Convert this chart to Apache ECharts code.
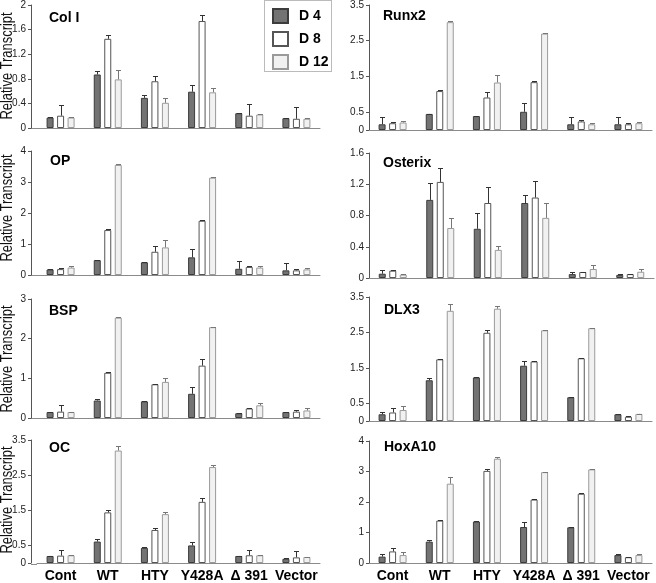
<!DOCTYPE html>
<html><head><meta charset="utf-8">
<script src="https://cdn.jsdelivr.net/npm/echarts@6/dist/echarts.min.js"></script>
<style>html,body{margin:0;padding:0;background:#fff}#c{width:656px;height:583px}</style>
</head><body><div id="c"></div>
<script>
const categories = ['Cont', 'WT', 'HTY', 'Y428A', '\u0394 391', 'Vector'];
const seriesNames = ['D 4', 'D 8', 'D 12'];

// Col I
const colI_D4 = [0.17, 0.87, 0.49, 0.59, 0.24, 0.16];
const colI_D8 = [0.20, 1.45, 0.76, 1.74, 0.20, 0.15];
const colI_D12 = [0.17, 0.79, 0.41, 0.58, 0.22, 0.15];
const colI_E4 = [0.01, 0.06, 0.04, 0.11, 0.01, 0.01];
const colI_E8 = [0.18, 0.07, 0.09, 0.09, 0.19, 0.19];
const colI_E12 = [0.01, 0.15, 0.07, 0.07, 0.01, 0.01];
// Runx2
const runx2_D4 = [0.16, 0.45, 0.39, 0.51, 0.16, 0.16];
const runx2_D8 = [0.19, 1.09, 0.91, 1.34, 0.24, 0.16];
const runx2_D12 = [0.21, 3.02, 1.33, 2.70, 0.16, 0.19];
const runx2_E4 = [0.20, 0.01, 0.01, 0.25, 0.20, 0.20];
const runx2_E8 = [0.04, 0.02, 0.16, 0.04, 0.05, 0.04];
const runx2_E12 = [0.04, 0.04, 0.20, 0.01, 0.04, 0.04];
// OP
const op_D4 = [0.18, 0.48, 0.41, 0.57, 0.20, 0.15];
const op_D8 = [0.19, 1.45, 0.75, 1.75, 0.26, 0.15];
const op_D12 = [0.24, 3.55, 0.89, 3.14, 0.24, 0.18];
const op_E4 = [0.01, 0.01, 0.01, 0.26, 0.24, 0.23];
const op_E8 = [0.04, 0.02, 0.17, 0.02, 0.02, 0.05];
const op_E12 = [0.05, 0.02, 0.24, 0.01, 0.04, 0.06];
// Osterix
const osx_D4 = [0.055, 1.00, 0.63, 0.96, 0.05, 0.04];
const osx_D8 = [0.094, 1.23, 0.96, 1.03, 0.077, 0.05];
const osx_D12 = [0.043, 0.64, 0.36, 0.77, 0.115, 0.08];
const osx_E4 = [0.045, 0.21, 0.20, 0.10, 0.025, 0.005];
const osx_E8 = [0.005, 0.18, 0.20, 0.21, 0.005, 0.005];
const osx_E12 = [0.005, 0.13, 0.05, 0.19, 0.055, 0.035];
// BSP
const bsp_D4 = [0.15, 0.44, 0.42, 0.61, 0.12, 0.15];
const bsp_D8 = [0.16, 1.14, 0.85, 1.32, 0.24, 0.16];
const bsp_D12 = [0.15, 2.53, 0.91, 2.29, 0.32, 0.19];
const bsp_E4 = [0.01, 0.03, 0.01, 0.16, 0.01, 0.01];
const bsp_E8 = [0.17, 0.01, 0.01, 0.18, 0.01, 0.03];
const bsp_E12 = [0.01, 0.01, 0.11, 0.01, 0.07, 0.06];
// DLX3
const dlx3_D4 = [0.19, 1.15, 1.23, 1.56, 0.67, 0.19];
const dlx3_D8 = [0.24, 1.74, 2.49, 1.68, 1.77, 0.12];
const dlx3_D12 = [0.31, 3.11, 3.17, 2.56, 2.62, 0.20];
const dlx3_E4 = [0.05, 0.07, 0.01, 0.13, 0.01, 0.01];
const dlx3_E8 = [0.13, 0.01, 0.07, 0.01, 0.01, 0.01];
const dlx3_E12 = [0.11, 0.20, 0.07, 0.01, 0.01, 0.01];
// OC
const oc_D4 = [0.20, 0.61, 0.43, 0.50, 0.20, 0.12];
const oc_D8 = [0.21, 1.44, 0.94, 1.74, 0.22, 0.16];
const oc_D12 = [0.22, 3.20, 1.39, 2.73, 0.22, 0.17];
const oc_E4 = [0.01, 0.06, 0.02, 0.11, 0.01, 0.01];
const oc_E8 = [0.17, 0.06, 0.07, 0.11, 0.16, 0.17];
const oc_E12 = [0.01, 0.14, 0.06, 0.06, 0.01, 0.01];
// HoxA10
const hox_D4 = [0.21, 0.70, 1.36, 1.18, 1.17, 0.26];
const hox_D8 = [0.38, 1.39, 3.02, 2.08, 2.27, 0.19];
const hox_D12 = [0.26, 2.60, 3.42, 2.98, 3.07, 0.26];
const hox_E4 = [0.08, 0.07, 0.01, 0.16, 0.01, 0.02];
const hox_E8 = [0.12, 0.01, 0.06, 0.03, 0.01, 0.01];
const hox_E12 = [0.09, 0.22, 0.07, 0.01, 0.01, 0.02];

// tick labels
const ticks_colI = [0, 0.4, 0.8, 1.2, 1.6, 2];
const ticks_half = [0, 0.5, 1.5, 2.5, 3.5];
const ticks_four = [0, 1, 2, 3, 4];
const ticks_osx = [0, 0.4, 0.8, 1.2, 1.6];
const ticks_three = [0, 1, 2, 3];

const panels = [
  {title: 'Col I', vals: [colI_D4, colI_D8, colI_D12], errs: [colI_E4, colI_E8, colI_E12], ticks: ticks_colI},
  {title: 'Runx2', vals: [runx2_D4, runx2_D8, runx2_D12], errs: [runx2_E4, runx2_E8, runx2_E12], ticks: ticks_half},
  {title: 'OP', vals: [op_D4, op_D8, op_D12], errs: [op_E4, op_E8, op_E12], ticks: ticks_four},
  {title: 'Osterix', vals: [osx_D4, osx_D8, osx_D12], errs: [osx_E4, osx_E8, osx_E12], ticks: ticks_osx},
  {title: 'BSP', vals: [bsp_D4, bsp_D8, bsp_D12], errs: [bsp_E4, bsp_E8, bsp_E12], ticks: ticks_three},
  {title: 'DLX3', vals: [dlx3_D4, dlx3_D8, dlx3_D12], errs: [dlx3_E4, dlx3_E8, dlx3_E12], ticks: ticks_half},
  {title: 'OC', vals: [oc_D4, oc_D8, oc_D12], errs: [oc_E4, oc_E8, oc_E12], ticks: ticks_half},
  {title: 'HoxA10', vals: [hox_D4, hox_D8, hox_D12], errs: [hox_E4, hox_E8, hox_E12], ticks: ticks_four}
];

const FONT = "'Liberation Sans', Arial, sans-serif";
const AXIS_X_LEFT = 31, AXIS_SHIFT = 6;
const layout = [
  {left: 37, top: 4, width: 283, height: 124},
  {left: 369, top: 5, width: 283, height: 125},
  {left: 37, top: 151, width: 283, height: 124},
  {left: 369, top: 153, width: 285, height: 125},
  {left: 37, top: 299, width: 283, height: 119},
  {left: 369, top: 297, width: 283, height: 124},
  {left: 37, top: 440, width: 283, height: 124},
  {left: 369, top: 441, width: 283, height: 124}
];
const titlePos = [[49, 11], [383, 9], [50, 154], [383, 156], [49, 304], [384, 303], [49, 441], [384, 440]];
const styles = [
  {color: '#737373', borderColor: '#3c3c3c', err: '#333'},
  {color: '#ffffff', borderColor: '#555555', err: '#333'},
  {color: '#f1f1f1', borderColor: '#9a9a9a', err: '#777'}
];
const BAR_W = 7, GAP = 0.5;
const pitch = BAR_W * (1 + GAP);

const grid = [], xAxis = [], yAxis = [], series = [], title = [];
const graphic = [];
panels.forEach((p, k) => {
  const leftCol = k % 2 === 0;
  grid.push(Object.assign({containLabel: false}, layout[k]));
  const bottom = k >= 6;
  xAxis.push({
    type: 'category', gridIndex: k, data: categories,
    axisLine: {lineStyle: {color: '#8a8a8a', width: 1}},
    axisTick: {show: false},
    axisLabel: {show: bottom, color: '#000', fontSize: 14, fontWeight: 'bold', fontFamily: FONT, margin: 6, interval: 0}
  });
  const mx = p.ticks[p.ticks.length - 1];
  yAxis.push({
    type: 'value', gridIndex: k, min: 0, max: mx,
    offset: leftCol ? AXIS_SHIFT : 0,
    splitLine: {show: false},
    axisLine: {show: true, lineStyle: {color: '#555', width: 1}},
    axisTick: {show: true, length: 3, customValues: p.ticks, lineStyle: {color: '#555'}},
    axisLabel: {customValues: p.ticks, color: '#222', fontSize: 10, fontFamily: FONT, margin: 5}
  });
  if (leftCol) {
    const yb = Math.round(layout[k].top + layout[k].height) + 0.5;
    graphic.push({type: 'line', shape: {x1: AXIS_X_LEFT, y1: yb, x2: layout[k].left, y2: yb},
      style: {stroke: '#8a8a8a', lineWidth: 1}, silent: true});
  }
  title.push({text: p.title, left: titlePos[k][0], top: titlePos[k][1], padding: 0,
    textStyle: {fontSize: 14, fontWeight: 'bold', color: '#000', fontFamily: FONT}});
  for (let s = 0; s < 3; s++) {
    series.push({
      type: 'bar', name: seriesNames[s], xAxisIndex: k, yAxisIndex: k,
      data: p.vals[s], barWidth: BAR_W, barGap: (GAP * 100) + '%',
      itemStyle: {color: styles[s].color, borderColor: styles[s].borderColor, borderWidth: 1},
      emphasis: {disabled: true}, animation: false, z: 2
    });
  }
  for (let s = 0; s < 3; s++) {
    const off = (s - 1) * pitch;
    const col = styles[s].err;
    series.push({
      type: 'custom', name: 'err' + k + '_' + s, xAxisIndex: k, yAxisIndex: k,
      data: p.vals[s].map((v, i) => [i, v, p.errs[s][i]]),
      encode: {x: 0, y: 1}, z: 3, animation: false, silent: true,
      renderItem: function (params, api) {
        const i = api.value(0), v = api.value(1), e = api.value(2);
        const a = api.coord([i, v]), b = api.coord([i, v + e]);
        const x = Math.round(a[0] + off) + 0.5;
        const yt = Math.round(b[1]) + 0.5;
        return {type: 'group', children: [
          {type: 'line', shape: {x1: x, y1: a[1], x2: x, y2: yt}, style: {stroke: col, lineWidth: 1}},
          {type: 'line', shape: {x1: x - 2.5, y1: yt, x2: x + 2.5, y2: yt}, style: {stroke: col, lineWidth: 1}}
        ]};
      }
    });
  }
});

const yTitleY = [66, 208, 359, 500];
yTitleY.forEach(y => graphic.push({
  type: 'text', x: 7.5, y: y, rotation: Math.PI / 2, scaleX: 0.76,
  style: {text: 'Relative Transcript', fontSize: 17, fontFamily: FONT, fill: '#111', textAlign: 'center', textVerticalAlign: 'middle'}
}));
graphic.push({type: 'rect', shape: {x: 264.5, y: 0.5, width: 67, height: 71},
  style: {fill: 'none', stroke: '#777', lineWidth: 1, lineDash: [1, 1]}, z: 10});

const chart = echarts.init(document.getElementById('c'), null, {renderer: 'canvas'});
chart.setOption({
  animation: false,
  backgroundColor: '#fff',
  title: title,
  grid: grid, xAxis: xAxis, yAxis: yAxis, series: series,
  graphic: graphic,
  legend: {
    data: seriesNames, orient: 'vertical', left: 272, top: 8, padding: 0,
    itemWidth: 15, itemHeight: 14, itemGap: 7, icon: 'rect',
    textStyle: {fontSize: 14, fontWeight: 'bold', color: '#000', fontFamily: FONT, padding: [0, 0, 0, 6]},
    selectedMode: false
  }
});
</script>
</body></html>
